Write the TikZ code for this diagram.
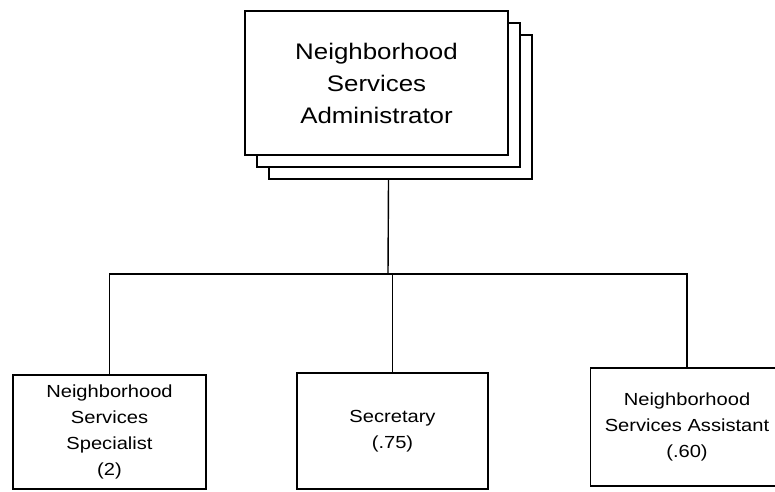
\documentclass[tikz,border=0pt]{standalone}
\usepackage{fontspec}
\setmainfont[FakeStretch=1.15]{Liberation Sans}
\usetikzlibrary{shadows}

\begin{document}
\begin{tikzpicture}
[
	x=1pt,y=-1pt,
	line width=1.4pt,
	headbox/.style={draw,fill=white,align=center,minimum width=263pt,minimum height=144pt,
		font=\fontsize{22.5}{32}\selectfont,
		copy shadow={shadow xshift=24pt,shadow yshift=-24pt},
		copy shadow={shadow xshift=12pt,shadow yshift=-12pt}},
	staffbox/.style={draw,align=center,minimum width=193pt,font=\fontsize{17.5}{26}\selectfont}
]

	\useasboundingbox (0,0) rectangle (775,491);

	% boxes
	\node[headbox] (admin) at (376.5,83) {Neighborhood\\Services\\Administrator};
	\node[staffbox,minimum height=114pt] (spec) at (109.5,432) {Neighborhood\\Services\\Specialist\\(2)};
	\node[staffbox,minimum width=191pt,minimum height=116pt] (sec) at (392.5,431) {Secretary\\(.75)};
	\node[staffbox,minimum height=118pt] (asst) at (687,427) {Neighborhood\\Services Assistant\\(.60)};

	% lines
	\coordinate (bus) at (388,274);
	\draw ([xshift=12pt,yshift=-24pt]admin.south) -- (bus);
	\draw (spec.north) |- (bus) -| (asst.north);
	\draw (bus -| sec.north) -- (sec.north);

\end{tikzpicture}
\end{document}
